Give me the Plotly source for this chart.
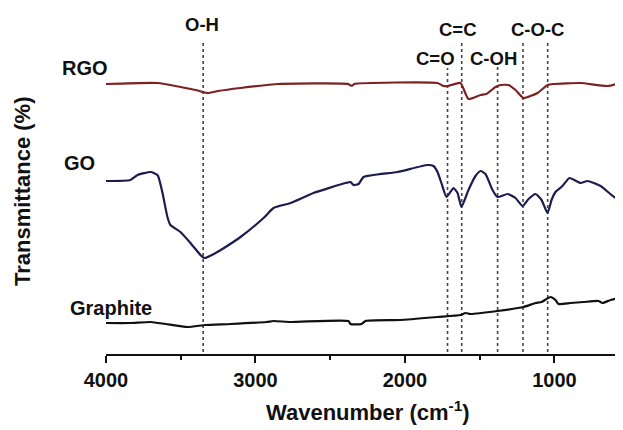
import plotly.graph_objects as go

# ---- data (wavenumber in cm^-1, transmittance in arbitrary offset units) ----
rgo_wn = [4000, 3655, 3501, 3400, 3321, 3250, 3100, 2846, 2380, 2364, 2350, 2340, 1782, 1742, 1715, 1690,
          1628, 1575, 1494, 1455, 1394, 1360, 1307, 1260, 1207, 1113, 1046, 1006, 825, 644, 541]
rgo_t = [270, 271, 267, 264, 261, 263, 266, 270, 270, 268.5, 268.5, 270, 271, 268, 268, 269,
         271, 255, 259, 260, 267, 269, 269, 264, 256, 261, 269, 270, 271, 268, 272]

go_wn = [4000, 3837, 3789, 3702, 3655, 3622, 3589, 3569, 3502, 3435, 3368, 3341, 3267, 3200, 3100,
         2946, 2879, 2765, 2612, 2398, 2364, 2344, 2310, 2277, 2050, 1849, 1809, 1782, 1756, 1722,
         1675, 1648, 1622, 1575, 1528, 1494, 1461, 1414, 1381, 1313, 1260, 1213, 1173, 1126, 1086,
         1046, 1019, 993, 946, 899, 825, 778, 691, 578, 541]
go_t = [173, 174, 179, 182, 179, 161, 137, 129, 122, 111, 99, 96, 101, 107, 117,
        136, 146, 151, 161, 171, 172, 169, 170, 177, 182, 189, 188, 182, 171, 157,
        166, 161, 147, 164, 178, 183, 180, 164, 157, 160, 156, 148, 155, 160, 154,
        141, 154, 162, 168, 176, 171, 173, 168, 155, 160]

gr_wn = [4000, 3837, 3702, 3602, 3455, 3334, 3167, 2926, 2880, 2765, 2378, 2364, 2290, 2264, 2030,
         1782, 1628, 1595, 1561, 1381, 1207, 1126, 1086, 1026, 993, 972, 892, 805, 705, 678, 624, 541]
gr_t = [31, 31, 32, 30, 27, 29, 30, 32, 33, 32, 33, 30, 30, 33, 34,
        37, 39, 41, 40, 43, 47, 51, 52, 57, 54, 50, 51, 52, 53, 51, 54, 57]

series_names = ["RGO", "GO", "Graphite"]
series_colors = ["#7b2222", "#1c1c4f", "#111111"]

peak_wn = [3350, 1715, 1620, 1380, 1210, 1045]
peak_labels = ["O-H", "C=C", "C-O-C", "C=O", "C-OH"]

x_ticks = [4000, 3000, 2000, 1000]

# ---- figure ----
FONT = "Liberation Sans, Arial, sans-serif"
fig = go.Figure()
for wn, t, name, col in zip([rgo_wn, go_wn, gr_wn], [rgo_t, go_t, gr_t], series_names, series_colors):
    fig.add_trace(go.Scatter(x=wn, y=t, mode="lines", name=name,
                             line=dict(color=col, width=2.2, shape="spline", smoothing=0.5),
                             showlegend=False, hoverinfo="skip"))

# dotted marker lines (top positions in y-units)
line_tops = [314, 286, 314, 289, 312, 314]
for w, top in zip(peak_wn, line_tops):
    fig.add_shape(type="line", xref="x", yref="y", x0=w, x1=w, y0=2, y1=top,
                  line=dict(color="#444444", width=1.6, dash="dot"), layer="below")

# the page body adds an 8px margin, so the figure is drawn 8px smaller
OFF = 8
W, H = 623 - OFF, 430 - OFF
L, R, T, B = 106 - OFF, 0, 20 - OFF, 76
pw, ph = W - L - R, H - T - B


def px(xp, yp):
    # reference pixel position -> paper coordinates
    xp, yp = xp - OFF, yp - OFF
    return (xp - L) / pw, (H - B - yp) / ph


annots = []
peak_label_pos = [(202, 25), (458, 29), (537, 29), (435, 58), (493, 58)]
for lab, (xp, yp) in zip(peak_labels, peak_label_pos):
    ax, ay = px(xp, yp)
    annots.append(dict(text=lab, x=ax, y=ay, xref="paper", yref="paper", showarrow=False,
                       xanchor="center", yanchor="middle",
                       font=dict(family=FONT, size=18.5, color="#111111", weight="bold")))

series_label_pos = [(85, 68), (79, 163), (111, 308)]
for lab, (xp, yp) in zip(series_names, series_label_pos):
    ax, ay = px(xp, yp)
    annots.append(dict(text=lab, x=ax, y=ay, xref="paper", yref="paper", showarrow=False,
                       xanchor="center", yanchor="middle",
                       font=dict(family=FONT, size=20, color="#111111", weight="bold")))

ax, ay = px(368, 411)
annots.append(dict(text="Wavenumber (cm<sup>-1</sup>)", x=ax, y=ay, xref="paper", yref="paper",
                   showarrow=False, xanchor="center", yanchor="middle",
                   font=dict(family=FONT, size=22, color="#111111", weight="bold")))
ax, ay = px(22, 191)
annots.append(dict(text="Transmittance (%)", x=ax, y=ay, xref="paper", yref="paper",
                   showarrow=False, xanchor="center", yanchor="middle", textangle=-90,
                   font=dict(family=FONT, size=22, color="#111111", weight="bold")))

fig.update_layout(
    width=W, height=H,
    margin=dict(l=L, r=R, t=T, b=B, pad=0),
    paper_bgcolor="white", plot_bgcolor="white",
    annotations=annots,
    xaxis=dict(range=[4000, 541], showgrid=False, zeroline=False,
               showline=True, linecolor="#111111", linewidth=2.2,
               ticks="outside", ticklen=7, tickwidth=2, tickcolor="#111111",
               tickvals=x_ticks, ticktext=[str(v) for v in x_ticks],
               tickfont=dict(family=FONT, size=20, color="#111111", weight="bold"),
               minor=dict(tickvals=[3500, 2500, 1500, 500], ticks="outside", ticklen=4,
                          tickwidth=2, tickcolor="#111111"),
               fixedrange=True),
    yaxis=dict(range=[0, 334], visible=False, fixedrange=True),
)

fig.write_html("out.html")
